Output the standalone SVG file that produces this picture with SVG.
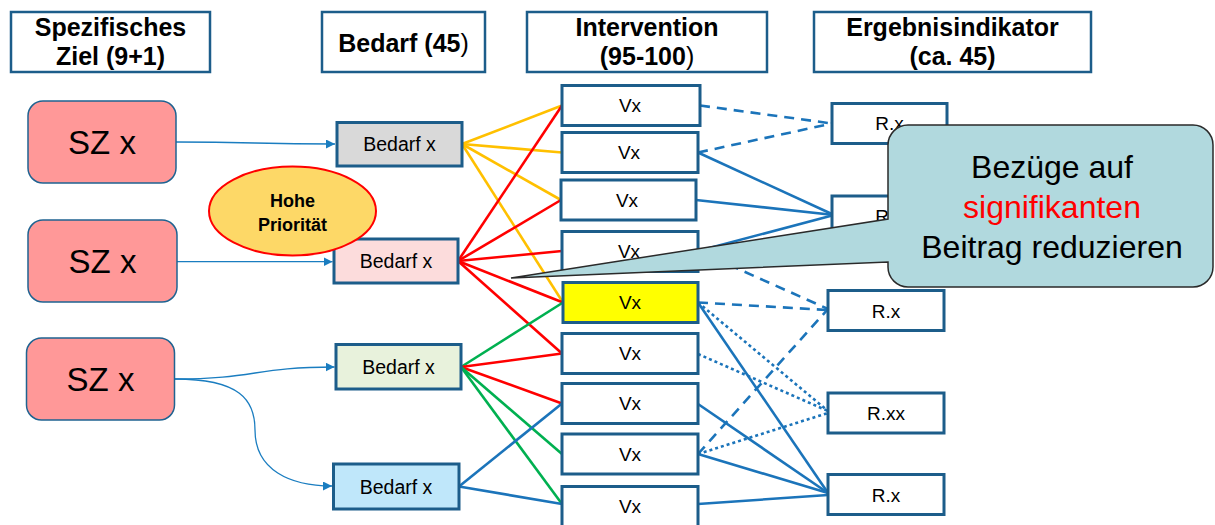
<svg xmlns="http://www.w3.org/2000/svg" width="1215" height="525" viewBox="0 0 1215 525">
<defs>
<style>
.hdr{fill:#fff;stroke:#1C5D8A;stroke-width:2.5}
.ht{font-family:"Liberation Sans",Arial,sans-serif;font-weight:bold;font-size:25px;fill:#000;text-anchor:middle}
.sz{fill:#FF9898;stroke:#1F6391;stroke-width:1.5}
.szt{font-family:"Liberation Sans",Arial,sans-serif;font-size:33px;fill:#000;text-anchor:middle}
.box{stroke:#1C5D8A;stroke-width:3}
.bt{font-family:"Liberation Sans",Arial,sans-serif;font-size:19.5px;fill:#000;text-anchor:middle}
.vt{font-family:"Liberation Sans",Arial,sans-serif;font-size:19px;fill:#000;text-anchor:middle}
.y{stroke:#FFC000;stroke-width:2.6;fill:none}
.r{stroke:#FF0000;stroke-width:2.6;fill:none}
.g{stroke:#00B050;stroke-width:2.6;fill:none}
.b{stroke:#1B74BA;stroke-width:2.6;fill:none}
.dash{stroke-dasharray:10 7}
.dot{stroke-dasharray:3 3}
.arr{stroke:#1A7DC0;stroke-width:1.3;fill:none}
</style>
<marker id="ah" viewBox="0 0 10 10" refX="10" refY="5" markerWidth="9" markerHeight="9" markerUnits="userSpaceOnUse" orient="auto">
<path d="M0,0 L10,5 L0,10 z" fill="#1A7DC0"/>
</marker>
</defs>

<g id="headers">
<g id="h-sz"><rect class="hdr" x="11" y="12" width="199" height="60"/><text class="ht" x="110.5" y="36">Spezifisches</text><text class="ht" x="110.5" y="65">Ziel (9+1)</text></g>
<g id="h-bedarf"><rect class="hdr" x="322" y="12" width="163" height="60"/><text class="ht" x="403.5" y="51.5">Bedarf (45<tspan font-weight="normal">)</tspan></text></g>
<g id="h-int"><rect class="hdr" x="527" y="12" width="240" height="60"/><text class="ht" x="647" y="36">Intervention</text><text class="ht" x="647" y="65">(95-100<tspan font-weight="normal">)</tspan></text></g>
<g id="h-erg"><rect class="hdr" x="814" y="12" width="277" height="60"/><text class="ht" x="952.5" y="36">Ergebnisindikator</text><text class="ht" x="952.5" y="65">(ca. 45)</text></g>
</g>

<g id="connectors">
<path class="arr" d="M176,142 C255,142 255,144 335,144" marker-end="url(#ah)"/>
<path class="arr" d="M177,261.7 L332.5,261.7" marker-end="url(#ah)"/>
<path class="arr" d="M175,379 C255,379 255,367 334.5,367" marker-end="url(#ah)"/>
<path class="arr" d="M175,379 C240,379 255,400 255,430 C255,470 290,486 332,486" marker-end="url(#ah)"/>

<line class="y" x1="462" y1="144" x2="562" y2="105.5"/>
<line class="y" x1="462" y1="144" x2="562" y2="152.5"/>
<line class="y" x1="462" y1="144" x2="561" y2="200"/>
<line class="y" x1="462" y1="144" x2="563" y2="302.5"/>

<line class="r" x1="458" y1="261" x2="562" y2="105.5"/>
<line class="r" x1="458" y1="261" x2="561" y2="200"/>
<line class="r" x1="458" y1="261" x2="562" y2="251"/>
<line class="r" x1="458" y1="261" x2="563" y2="302.5"/>
<line class="r" x1="458" y1="261" x2="562" y2="353.5"/>

<line class="g" x1="461" y1="367" x2="563" y2="302.5"/>
<line class="r" x1="461" y1="367" x2="562" y2="353.5"/>
<line class="r" x1="461" y1="367" x2="562" y2="403.5"/>
<line class="g" x1="461" y1="367" x2="562" y2="454"/>
<line class="g" x1="461" y1="367" x2="562" y2="504"/>

<line class="b" x1="459" y1="486.5" x2="562" y2="403.5"/>
<line class="b" x1="459" y1="486.5" x2="562" y2="504"/>

<line class="b dash" x1="700" y1="105.5" x2="832" y2="123.5"/>
<line class="b dash" x1="698" y1="152.5" x2="832" y2="123.5"/>
<line class="b" x1="698" y1="152.5" x2="834" y2="215"/>
<line class="b" x1="696" y1="200" x2="834" y2="215"/>
<line class="b" x1="698" y1="251" x2="834" y2="215"/>
<line class="b dash" x1="698" y1="251" x2="828" y2="309"/>
<line class="b dash" x1="698" y1="302.5" x2="828" y2="310"/>
<line class="b dot" x1="698" y1="302.5" x2="828" y2="411"/>
<line class="b" x1="698" y1="302.5" x2="828" y2="493"/>
<line class="b dot" x1="698" y1="354" x2="828" y2="411"/>
<line class="b" x1="698" y1="404" x2="828" y2="493"/>
<line class="b dash" x1="698" y1="454" x2="828" y2="309"/>
<line class="b dot" x1="698" y1="454" x2="828" y2="413"/>
<line class="b" x1="698" y1="454" x2="828" y2="493"/>
<line class="b" x1="698" y1="504" x2="828" y2="495"/>
</g>

<g id="sz1"><rect class="sz" x="28" y="101" width="148" height="82" rx="15"/><text class="szt" x="102" y="154">SZ x</text></g>
<g id="sz2"><rect class="sz" x="28" y="220" width="149" height="82" rx="15"/><text class="szt" x="102.5" y="273">SZ x</text></g>
<g id="sz3"><rect class="sz" x="26.5" y="338" width="148" height="82" rx="15"/><text class="szt" x="100.5" y="391">SZ x</text></g>

<g id="bedarf1"><rect class="box" x="337" y="122.5" width="125" height="43.5" fill="#D9D9D9"/><text class="bt" x="399.5" y="151">Bedarf x</text></g>
<g id="bedarf2"><rect class="box" x="334" y="239" width="124" height="44" fill="#FCDCDC"/><text class="bt" x="396" y="268">Bedarf x</text></g>
<g id="bedarf3"><rect class="box" x="336" y="344.5" width="125" height="44.5" fill="#E8F2DC"/><text class="bt" x="398.5" y="374">Bedarf x</text></g>
<g id="bedarf4"><rect class="box" x="333.5" y="464" width="125.5" height="45" fill="#BFE7FA"/><text class="bt" x="396" y="493.5">Bedarf x</text></g>

<g id="prio"><ellipse cx="292.5" cy="211" rx="83.5" ry="44.5" fill="#FDD867" stroke="#FF0000" stroke-width="2"/><text class="ht" style="font-size:18px" x="292.5" y="206.5">Hohe</text><text class="ht" style="font-size:18px" x="292.5" y="230.5">Priorität</text></g>

<g id="v1"><rect class="box" x="562" y="85.5" width="138" height="40" fill="#fff"/><text class="vt" x="630" y="112">Vx</text></g>
<g id="v2"><rect class="box" x="562" y="132.5" width="136" height="40" fill="#fff"/><text class="vt" x="629" y="159">Vx</text></g>
<g id="v3"><rect class="box" x="561" y="180" width="135" height="40" fill="#fff"/><text class="vt" x="627" y="206.5">Vx</text></g>
<g id="v4"><rect class="box" x="562" y="231.5" width="136" height="40" fill="#fff"/><text class="vt" x="629" y="258">Vx</text></g>
<g id="v5"><rect class="box" x="563" y="282.5" width="135" height="40" fill="#FFFF00"/><text class="vt" x="630" y="309">Vx</text></g>
<g id="v6"><rect class="box" x="562" y="333.5" width="136" height="40" fill="#fff"/><text class="vt" x="630" y="360">Vx</text></g>
<g id="v7"><rect class="box" x="562" y="383.5" width="136" height="40" fill="#fff"/><text class="vt" x="630" y="410">Vx</text></g>
<g id="v8"><rect class="box" x="562" y="434" width="136" height="40" fill="#fff"/><text class="vt" x="630" y="460.5">Vx</text></g>
<g id="v9"><rect class="box" x="562" y="486.5" width="136" height="40" fill="#fff"/><text class="vt" x="630" y="513">Vx</text></g>

<g id="r1"><rect class="box" x="832" y="103.5" width="115" height="40" fill="#fff"/><text class="vt" x="889.5" y="130">R.x</text></g>
<g id="r2"><rect class="box" x="832" y="196" width="115" height="40" fill="#fff"/><text class="vt" x="889.5" y="222.5">R.x</text></g>
<g id="r3"><rect class="box" x="828" y="290.5" width="116" height="40" fill="#fff"/><text class="vt" x="886" y="317.5">R.x</text></g>
<g id="r4"><rect class="box" x="828" y="393" width="116" height="40" fill="#fff"/><text class="vt" x="886" y="420">R.xx</text></g>
<g id="r5"><rect class="box" x="828" y="474.5" width="116" height="40" fill="#fff"/><text class="vt" x="886" y="501.5">R.x</text></g>

<g id="callout">
<path d="M908,125 H1193 A20,20 0 0 1 1213,145 V267 A20,20 0 0 1 1193,287 H908 A20,20 0 0 1 888,267 V262 L511,278 L888,219 V145 A20,20 0 0 1 908,125 Z" fill="#B1D9DE" stroke="#2A2A2A" stroke-width="1.5"/>
<text font-family="'Liberation Sans',Arial,sans-serif" font-size="32" text-anchor="middle" fill="#000"><tspan x="1052" y="178">Bezüge auf</tspan><tspan x="1052" y="218" fill="#FF0000">signifikanten</tspan><tspan x="1052" y="258">Beitrag reduzieren</tspan></text>
</g>
</svg>
